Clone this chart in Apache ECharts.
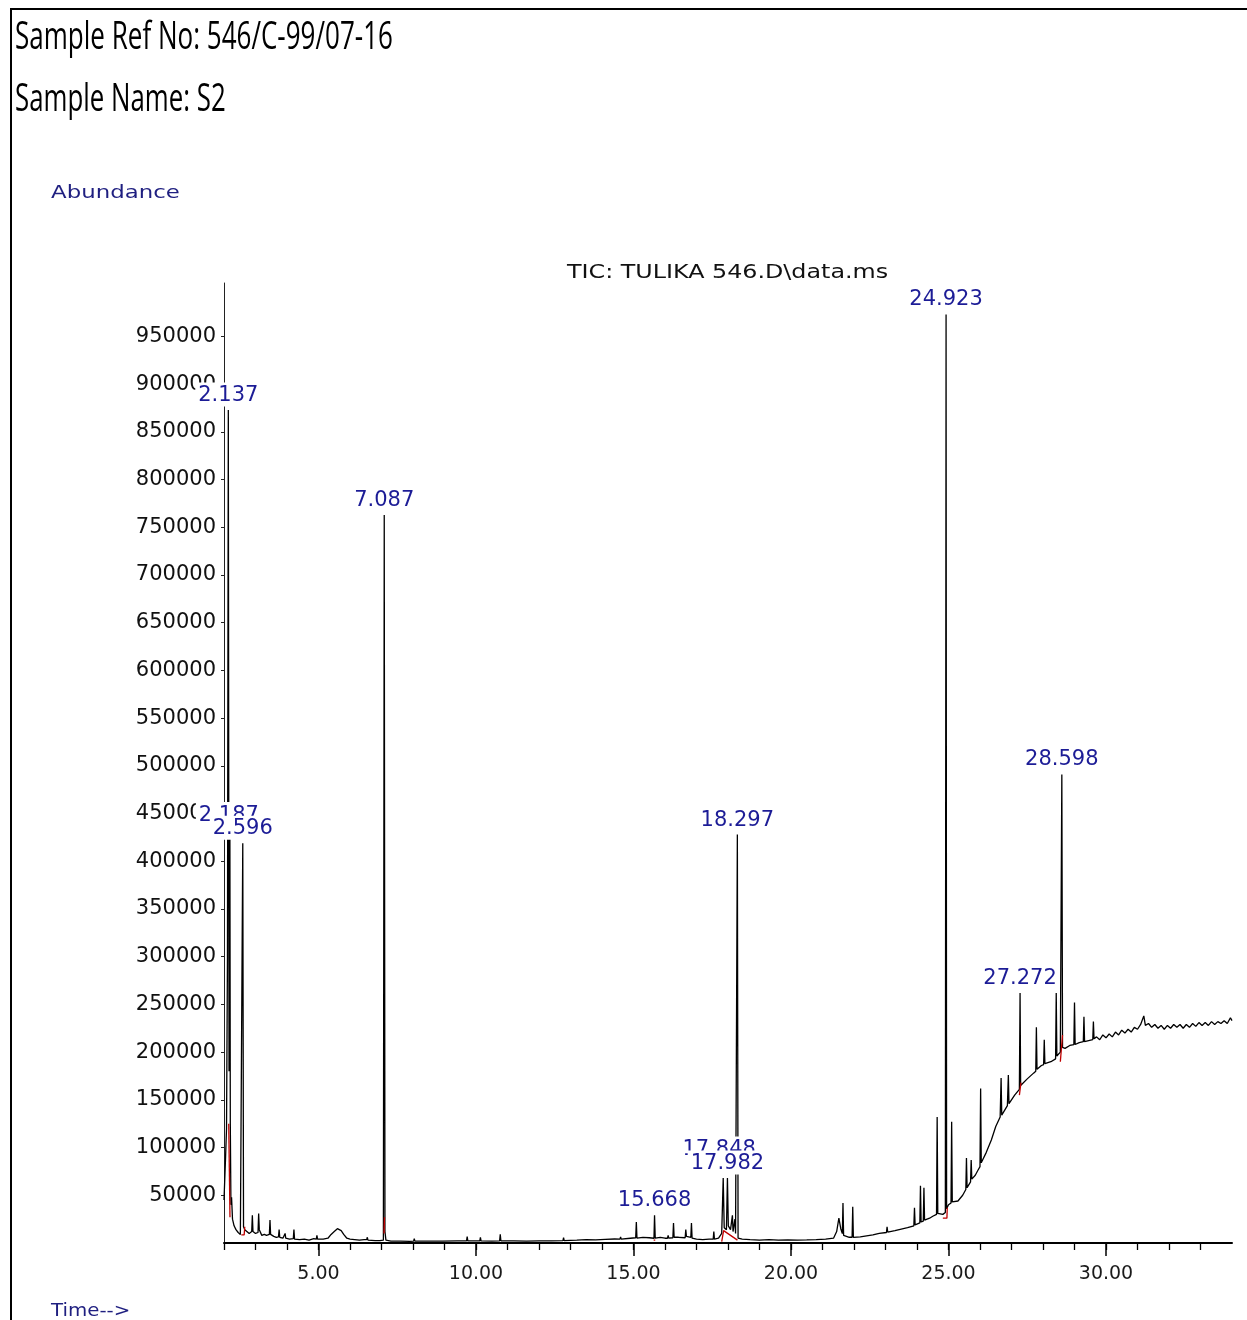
<!DOCTYPE html>
<html>
<head>
<meta charset="utf-8">
<script src="https://cdn.jsdelivr.net/npm/echarts@6/dist/echarts.min.js"></script>
<style>html,body{margin:0;padding:0;background:#fff}#c{width:1247px;height:1320px}</style>
</head>
<body>
<div id="c"></div>
<script>
// ---- data (time in min, abundance) ----
const trace = [
[2.00,45000],[2.05,90000],[2.08,120000],[2.11,300000],[2.137,873000],[2.16,180000],[2.175,300000],[2.187,428000],[2.20,125000],[2.22,40000],[2.24,48000],[2.27,25000],[2.32,18000],[2.38,14000],[2.45,11000],[2.52,9000],[2.57,9000],[2.596,419000],[2.62,17000],[2.66,14000],[2.72,12000],[2.80,10000],[2.88,12000],[2.90,29000],[2.92,12000],[3.00,10000],[3.08,11000],[3.10,31000],[3.12,14000],[3.20,8000],[3.28,9000],[3.35,8000],[3.44,9000],[3.46,24000],[3.48,9000],[3.58,7000],[3.66,6000],[3.73,6500],[3.75,14000],[3.77,6000],[3.87,5000],[3.92,5500],[3.94,10000],[3.96,5000],[4.08,4000],[4.20,4500],[4.22,14000],[4.24,4000],[4.40,3500],[4.55,4000],[4.70,3000],[4.85,4500],[4.93,4000],[4.95,8000],[4.97,4000],[5.15,4000],[5.30,5000],[5.40,9000],[5.50,12000],[5.60,15000],[5.66,17000],[5.72,13000],[5.80,9000],[5.90,5000],[6.00,4000],[6.15,3500],[6.30,3000],[6.45,3500],[6.53,3500],[6.55,6000],[6.57,3000],[6.80,2500],[6.95,2500],[7.06,3000],[7.087,763000],[7.11,12000],[7.14,3000],[7.30,2000],[7.60,2000],[7.90,1800],[8.02,2000],[8.04,4500],[8.06,2000],[8.50,2000],[8.94,2000],[8.96,4000],[8.98,2000],[9.40,2200],[9.70,2200],[9.72,6600],[9.74,2200],[10.12,2200],[10.14,6000],[10.16,2200],[10.50,2000],[10.75,2300],[10.77,9000],[10.79,2300],[11.20,2200],[11.60,2000],[12.00,2200],[12.40,2300],[12.76,2400],[12.78,5500],[12.80,2500],[13.20,3000],[13.50,3500],[13.80,3200],[14.10,3800],[14.40,4200],[14.57,4000],[14.59,6500],[14.61,4000],[14.90,5000],[15.07,5500],[15.09,22000],[15.11,5000],[15.30,6000],[15.50,5500],[15.65,5000],[15.668,29000],[15.69,5000],[15.85,6000],[16.00,5000],[16.08,5000],[16.10,8000],[16.12,5000],[16.25,5500],[16.27,21000],[16.29,6000],[16.43,6000],[16.45,8000],[16.47,5000],[16.64,5500],[16.66,14000],[16.68,7000],[16.82,6000],[16.84,21000],[16.86,5000],[17.00,4000],[17.20,3500],[17.40,4000],[17.53,4000],[17.55,12000],[17.57,4000],[17.70,5000],[17.80,10000],[17.848,68000],[17.88,16000],[17.95,14000],[17.982,68000],[18.01,18000],[18.08,14000],[18.12,13000],[18.14,29000],[18.16,12000],[18.20,11000],[18.22,25000],[18.24,10000],[18.28,9000],[18.297,428000],[18.32,5000],[18.45,4000],[18.70,3500],[19.00,3000],[19.30,3500],[19.60,3000],[19.90,3200],[20.20,3000],[20.50,3200],[20.80,3500],[21.10,4000],[21.35,5000],[21.45,12000],[21.52,26000],[21.58,15000],[21.63,10000],[21.65,42000],[21.67,8000],[21.85,6000],[21.94,6000],[21.96,38000],[21.98,6000],[22.20,6500],[22.40,7500],[22.60,8500],[22.80,10000],[23.03,11000],[23.05,17000],[23.07,11500],[23.30,13000],[23.50,14500],[23.70,16000],[23.90,18000],[23.92,37000],[23.94,19000],[24.09,21000],[24.11,60000],[24.13,22000],[24.20,23000],[24.22,58000],[24.24,24000],[24.40,26000],[24.50,28000],[24.62,30000],[24.64,132000],[24.66,31000],[24.82,30000],[24.90,32000],[24.923,973000],[24.94,36000],[25.00,40000],[25.08,42000],[25.10,127000],[25.12,43000],[25.30,44000],[25.45,50000],[25.55,56000],[25.57,89000],[25.59,58000],[25.70,64000],[25.72,87000],[25.74,67000],[25.85,71000],[25.93,76000],[26.00,80000],[26.02,162000],[26.04,84000],[26.20,95000],[26.36,108000],[26.50,122000],[26.64,132000],[26.67,173000],[26.69,134000],[26.78,139000],[26.87,144000],[26.90,176000],[26.92,146000],[27.10,155000],[27.25,161000],[27.272,262000],[27.29,165000],[27.50,172000],[27.70,178000],[27.77,180000],[27.79,226000],[27.81,182000],[27.95,186000],[28.02,187000],[28.04,213000],[28.06,188000],[28.25,190000],[28.40,193000],[28.42,262000],[28.44,196000],[28.55,200000],[28.58,202000],[28.598,491000],[28.62,205000],[28.70,204000],[28.85,207000],[28.98,208000],[29.00,252000],[29.02,208000],[29.15,210000],[29.28,211000],[29.30,237000],[29.32,211000],[29.45,212000],[29.58,213000],[29.60,232000],[29.62,214000],[29.70,216000],[29.80,213000],[29.90,218000],[30.00,215000],[30.10,219000],[30.20,216000],[30.30,221000],[30.40,218000],[30.50,223000],[30.60,220000],[30.70,224000],[30.80,221000],[30.90,226000],[31.00,224000],[31.10,229000],[31.20,238000],[31.25,228000],[31.35,230000],[31.45,226000],[31.55,229000],[31.65,225000],[31.75,228000],[31.85,224000],[31.95,228000],[32.05,225000],[32.15,229000],[32.25,226000],[32.35,229000],[32.45,225000],[32.55,229000],[32.65,226000],[32.75,230000],[32.85,227000],[32.95,231000],[33.05,228000],[33.15,231000],[33.25,228000],[33.35,232000],[33.45,229000],[33.55,232000],[33.65,230000],[33.75,233000],[33.85,230000],[33.95,236000],[34.00,233000]
];
// integration baseline marks (red)
const redSegments = [
[[2.15,125000],[2.19,27000]],
[[2.55,8500],[2.64,8500],[2.66,17000]],
[[7.08,10000],[7.095,27000]],
[[15.64,3000],[15.69,3000]],
[[17.80,1500],[17.86,13000],[18.30,3000]],
[[24.82,26000],[24.95,26000],[24.96,37000]],
[[27.25,155000],[27.30,168000]],
[[28.55,190000],[28.62,218000]]
];
const peakTimes = [2.137, 2.187, 2.596, 7.087, 15.668, 17.848, 17.982, 18.297, 24.923, 27.272, 28.598];
const peakApex  = [873000, 428000, 419000, 763000, 29000, 68000, 68000, 428000, 973000, 262000, 491000];
const yTickValues = [50000,100000,150000,200000,250000,300000,350000,400000,450000,500000,550000,600000,650000,700000,750000,800000,850000,900000,950000];
const xLabelValues = [5,10,15,20,25,30];
const xMinorTicks = [2,3,4,5,6,7,8,9,10,11,12,13,14,15,16,17,18,19,20,21,22,23,24,25,26,27,28,29,30,31,32,33];

// labels that sit behind a neighbouring label in the reference (pixel shift)
const behind = {'2.187':[-1,-5], '17.848':[-4,-14]};
const blue = '#1c1c96', navy = '#1f1f80';

const chart = echarts.init(document.getElementById('c'), null, {renderer:'canvas'});
const series = [{
  type:'line', data:trace, showSymbol:false, symbol:'none', animation:false,
  lineStyle:{color:'#000', width:1.3}, z:3, xAxisIndex:0
}];
redSegments.forEach(seg => series.push({
  type:'line', data:seg, showSymbol:false, symbol:'none', animation:false,
  lineStyle:{color:'#c00000', width:1.3}, z:4, xAxisIndex:0
}));
const labelStyle = {show:true, position:'top', distance:3, formatter:p=>p.name,
    fontFamily:'DejaVu Sans', fontSize:21, color:blue, backgroundColor:'rgb(255,255,255)',
    opacity:1, padding:[3,3,1,3], lineHeight:20};
const scatterBase = {type:'scatter', symbol:'rect', symbolSize:1, animation:false, xAxisIndex:0,
  itemStyle:{opacity:1, color:'rgba(0,0,0,0)'}, label:labelStyle, emphasis:{disabled:true}};
const front = [];
peakTimes.forEach((t,i)=>{
  const txt = t.toFixed(3);
  const item = {value:[t, peakApex[i]], name:txt};
  if (behind[txt]) {
    series.push(Object.assign({}, scatterBase, {zlevel:1, z:5, data:[item],
      labelLayout:{hideOverlap:false, dx:behind[txt][0], dy:behind[txt][1]}}));
  } else front.push(item);
});
series.push(Object.assign({}, scatterBase, {zlevel:2, z:6, data:front, labelLayout:{hideOverlap:false}}));

chart.setOption({
  animation:false,
  grid:{left:224, top:283, width:1008, height:960, containLabel:false},
  xAxis:[{
    type:'value', min:2, max:34,
    axisLine:{show:true, lineStyle:{color:'#000', width:2}},
    axisTick:{show:true, length:7, customValues:xMinorTicks, lineStyle:{color:'#000', width:1.3}},
    axisLabel:{show:true, customValues:xLabelValues, margin:22, formatter:v=>v.toFixed(2),
      fontFamily:'DejaVu Sans', fontSize:19, color:'#1a1a1a'},
    splitLine:{show:false}
  },{
    type:'value', min:2, max:34, position:'bottom', gridIndex:0,
    axisLine:{show:false}, axisLabel:{show:false}, splitLine:{show:false},
    axisTick:{show:true, length:13, customValues:xLabelValues, lineStyle:{color:'#000', width:1.5}}
  }],
  yAxis:{
    type:'value', min:0, max:1006000,
    axisLine:{show:true, lineStyle:{color:'#222', width:1}},
    axisTick:{show:true, length:3, customValues:yTickValues, lineStyle:{color:'#222'}},
    axisLabel:{show:true, customValues:yTickValues, margin:8, formatter:v=>String(v),
      fontFamily:'DejaVu Sans', fontSize:21, color:'#111'},
    splitLine:{show:false}
  },
  graphic:[
    {type:'rect', shape:{x:11, y:9, width:1300, height:1400}, style:{fill:'none', stroke:'#000', lineWidth:2}, silent:true},
    {type:'text', x:15, y:38, scaleX:0.685, style:{text:'Sample Ref No: 546/C-99/07-16', x:0, y:0, verticalAlign:'middle', font:'38px "Open Sans"', fill:'#000'}},
    {type:'text', x:15, y:100, scaleX:0.68, style:{text:'Sample Name: S2', x:0, y:0, verticalAlign:'middle', font:'38px "Open Sans"', fill:'#000'}},
    {type:'text', x:51, y:193, scaleX:1.27, style:{text:'Abundance', x:0, y:0, verticalAlign:'middle', font:'18px "DejaVu Sans"', fill:navy}},
    {type:'text', x:567, y:273, scaleX:1.19, style:{text:'TIC: TULIKA 546.D\\data.ms', x:0, y:0, verticalAlign:'middle', font:'20px "DejaVu Sans"', fill:'#111'}},
    {type:'text', x:51, y:1311, scaleX:1.1, style:{text:'Time-->', x:0, y:0, verticalAlign:'middle', font:'18px "DejaVu Sans"', fill:navy}}
  ],
  series: series
});
</script>
</body>
</html>
